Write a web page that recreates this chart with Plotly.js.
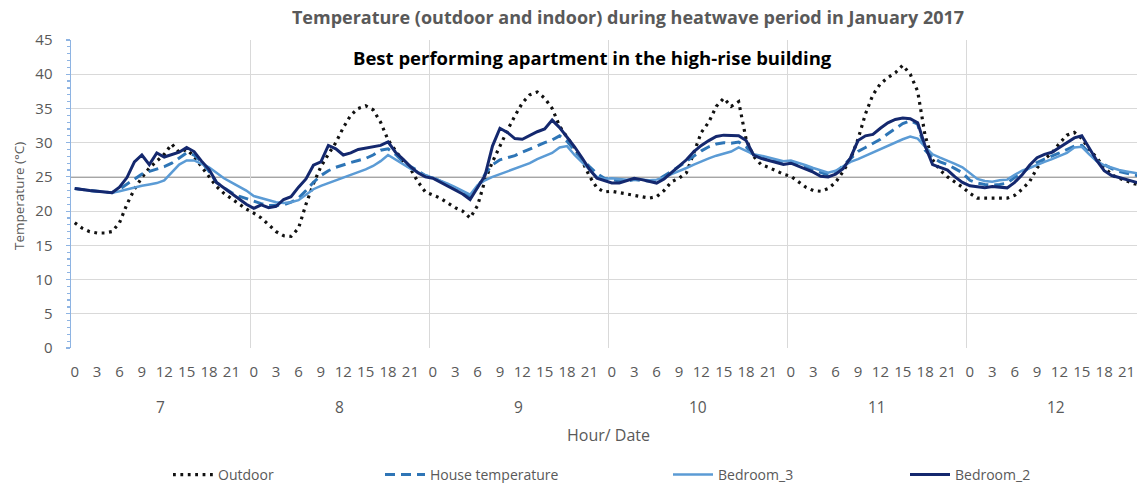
<!DOCTYPE html>
<html>
<head>
<meta charset="utf-8">
<script src="https://cdn.plot.ly/plotly-3.0.1.min.js"></script>
<style>html,body{margin:0;padding:0;background:#fff;}#chart{width:1137px;height:483px;}</style>
</head>
<body>
<div id="chart"></div>
<script>
// ---- data ----
const days = [7, 8, 9, 10, 11, 12];
const hours = [0,1,2,3,4,5,6,7,8,9,10,11,12,13,14,15,16,17,18,19,20,21,22,23];
const hourTickStep = 3;
const threshold = 25;

const outdoor = [
  18.3,17.5,17.0,16.8,16.8,17.0,18.3,21.0,23.2,24.9,26.3,27.3,28.3,29.8,28.6,29.0,28.0,26.5,25.0,23.6,22.6,21.8,21.0,20.3,
  19.7,19.0,18.0,17.0,16.4,16.3,17.5,21.0,24.0,26.5,28.3,30.0,32.2,34.0,35.0,35.4,34.8,33.0,30.4,28.8,27.3,26.2,24.3,22.8,
  22.4,21.9,21.2,20.5,20.0,19.0,20.8,24.5,27.2,29.6,31.8,33.9,35.8,37.0,37.4,36.5,35.0,32.4,30.9,29.2,27.4,25.1,23.4,22.8,
  22.9,22.7,22.5,22.3,22.1,21.9,22.1,23.0,24.3,24.8,25.6,28.5,31.5,33.0,35.3,36.5,35.3,36.0,30.5,28.0,26.8,26.4,25.9,25.4,
  25.1,24.3,23.5,23.0,22.9,23.3,24.2,25.8,27.6,30.5,34.2,37.0,38.6,39.5,40.2,41.3,40.0,37.5,31.0,27.5,26.0,25.0,24.3,23.5,
  22.6,21.9,21.9,21.9,21.8,21.9,22.3,23.2,24.3,26.3,27.6,28.5,29.9,31.1,31.5,30.6,29.0,27.8,26.4,25.3,24.8,24.4,24.0,23.8
];
const houseTemperature = [
  23.3,23.1,23.0,22.9,22.8,22.7,23.2,23.9,24.7,25.4,25.8,26.1,26.5,27.0,27.7,28.5,28.2,27.2,25.8,24.2,23.4,22.7,22.2,21.8,
  21.4,21.1,20.8,20.8,20.9,21.3,21.9,23.0,24.2,25.2,25.9,26.4,26.8,27.1,27.4,27.7,28.2,28.9,29.1,28.3,27.2,26.5,25.9,25.2,
  24.9,24.4,23.9,23.4,22.8,22.1,23.5,25.4,26.8,27.5,27.8,28.1,28.6,29.1,29.6,30.0,30.4,31.0,30.2,28.9,27.6,26.5,25.5,24.8,
  24.6,24.4,24.4,24.6,24.5,24.4,24.5,25.1,25.8,26.5,27.3,28.1,28.8,29.4,29.8,30.0,29.9,30.1,29.4,28.1,27.8,27.6,27.3,27.0,
  27.1,26.8,26.4,26.0,25.6,25.3,25.6,26.6,27.7,28.7,29.3,29.9,30.5,31.3,32.1,32.8,33.2,32.7,28.9,27.8,27.2,26.8,26.2,25.6,
  24.5,24.1,23.9,23.8,23.9,24.1,24.9,25.6,26.4,27.1,27.6,28.0,28.5,29.0,29.5,29.6,28.5,27.4,26.8,26.2,25.8,25.5,25.3,25.1
];
const bedroom3 = [
  23.3,23.1,23.0,22.9,22.8,22.7,22.9,23.2,23.5,23.7,23.9,24.1,24.5,25.6,26.8,27.4,27.4,26.9,26.4,25.6,24.8,24.2,23.6,23.0,
  22.2,21.9,21.5,21.3,21.2,21.3,21.6,22.4,23.2,23.7,24.1,24.5,24.8,25.2,25.6,26.1,26.6,27.3,28.2,27.5,26.8,26.2,25.7,25.2,
  24.9,24.5,24.0,23.5,23.0,22.4,23.8,24.5,25.0,25.4,25.8,26.2,26.6,27.0,27.6,28.1,28.5,29.3,29.5,28.2,27.1,26.0,25.0,24.7,
  24.8,24.7,24.6,24.7,24.6,24.5,24.6,24.9,25.4,25.8,26.3,26.8,27.3,27.7,28.1,28.4,28.7,29.3,28.8,28.3,28.1,27.8,27.5,27.3,
  27.4,27.1,26.7,26.3,25.9,25.6,25.9,26.6,27.2,27.6,28.1,28.5,29.0,29.5,30.0,30.5,30.9,30.6,29.4,28.3,27.8,27.4,26.9,26.4,
  25.6,24.7,24.4,24.3,24.5,24.6,25.3,25.9,26.3,26.8,27.2,27.6,28.0,28.5,29.3,29.4,28.3,27.3,26.7,26.3,26.0,25.8,25.6,25.4
];
const bedroom2 = [
  23.3,23.1,23.0,22.9,22.8,22.7,23.5,24.9,27.2,28.2,26.8,28.5,27.9,28.2,28.6,29.3,28.7,27.3,26.1,24.2,23.4,22.7,21.9,21.0,
  20.4,20.9,20.5,20.7,21.7,22.1,23.5,24.7,26.7,27.2,29.6,29.1,28.2,28.5,29.0,29.2,29.4,29.6,30.1,28.6,27.6,26.5,25.6,25.0,
  24.8,24.2,23.6,23.1,22.5,21.7,23.5,25.2,29.5,32.1,31.5,30.6,30.5,31.1,31.6,32.0,33.3,32.2,30.8,29.4,27.8,26.1,24.8,24.5,
  24.1,24.1,24.4,24.8,24.6,24.3,24.1,24.7,25.6,26.6,27.5,28.7,29.6,30.3,30.9,31.1,31.1,31.0,30.3,28.2,27.7,27.4,27.2,26.8,
  27.0,26.6,26.2,25.7,25.1,25.0,25.4,26.2,27.8,30.3,31.0,31.2,32.1,32.9,33.4,33.6,33.5,32.9,29.5,26.8,26.4,26.0,25.0,24.2,
  23.7,23.5,23.4,23.6,23.5,23.4,24.2,25.3,26.7,27.8,28.3,28.6,29.3,30.0,30.7,31.0,29.2,27.4,25.9,25.2,24.9,24.6,24.3,24.0
];

const seriesNames = ['Outdoor', 'House temperature', 'Bedroom_3', 'Bedroom_2'];
const titleText = 'Temperature (outdoor and indoor) during heatwave period in January 2017';
const subtitleText = 'Best performing apartment in the high-rise building';
const yTitleText = 'Temperature (°C)';
const xTitleText = 'Hour/ Date';

// ---- derived positions (category index) ----
const nH = hours.length;
const xIdx = [];
days.forEach((d, i) => hours.forEach(h => xIdx.push(i * nH + h)));
const tickVals = xIdx.filter((v, i) => hours[i % nH] % hourTickStep === 0);
const tickText = tickVals.map(v => String(hours[v % nH]));
const dayBounds = days.map((d, i) => i * nH - 0.5);
const dayCenters = days.map((d, i) => i * nH + (nH - 1) / 2);

const FONT = 'Open Sans, Liberation Sans, sans-serif';
const GRAY = '#595959';
const W = 1137, H = 483;
const mT = 40, mB = 0, mL = 71;
const ph = H - mT - mB;
const py = px => (H - mB - px) / ph; // pixel row -> paper y
const pxx = px => (px - mL) / (W - mL); // pixel column -> paper x

const styles = [
  {color: '#111111', width: 3.2, dash: '2.8px,4.6px'},
  {color: '#2e75b6', width: 3, dash: '10px,6px'},
  {color: '#5b9bd5', width: 2.5, dash: 'solid'},
  {color: '#14286e', width: 3, dash: 'solid'}
];
const values = [outdoor, houseTemperature, bedroom3, bedroom2];
const legendX = [168, 380, 668, 905];
const legendIds = ['legend', 'legend2', 'legend3', 'legend4'];

const traces = values.map((v, i) => ({
  type: 'scatter', mode: 'lines', x: xIdx, y: v, name: seriesNames[i],
  line: styles[i], legend: legendIds[i], xaxis: 'x', yaxis: 'y', hoverinfo: 'skip'
}));

const layout = {
  width: W, height: H,
  margin: {l: mL, r: 0, t: mT, b: mB, autoexpand: false},
  paper_bgcolor: '#fff', plot_bgcolor: 'rgba(0,0,0,0)',
  font: {family: FONT, color: GRAY, size: 14},
  title: {text: titleText, x: 628 / W, xanchor: 'center', xref: 'container',
          y: 1 - 18 / H, yanchor: 'middle', yref: 'container',
          font: {family: FONT, size: 18, color: GRAY, weight: 'bold'}},
  xaxis: {
    domain: [0, 1], range: [-0.5, 142.4], anchor: 'y',
    tickmode: 'array', tickvals: tickVals, ticktext: tickText,
    showgrid: false, zeroline: false, showline: false, ticks: '',
    ticklabelstandoff: 13, tickfont: {size: 15, color: GRAY},
    minor: {tickmode: 'array', tickvals: dayBounds, showgrid: true, gridcolor: '#d9d9d9', gridwidth: 1, ticks: ''}
  },
  yaxis: {
    domain: [py(348), 1], range: [0, 45], dtick: 5, anchor: 'x',
    showgrid: true, gridcolor: '#d9d9d9', gridwidth: 1, zeroline: false,
    showline: true, linecolor: '#8eb4e3', linewidth: 1.5,
    ticks: 'outside', ticklen: 4, tickcolor: '#8eb4e3', tickwidth: 1.2,
    minor: {dtick: 1, ticks: 'outside', ticklen: 3, tickcolor: '#8eb4e3', showgrid: false},
    ticklabelstandoff: 10, tickfont: {size: 15, color: GRAY}
  },
  xaxis2: {
    domain: [0, 1], matches: 'x', anchor: 'y2',
    tickmode: 'array', tickvals: dayBounds, showticklabels: false,
    showgrid: true, gridcolor: '#d9d9d9', gridwidth: 1, zeroline: false, showline: false, ticks: ''
  },
  yaxis2: {domain: [py(420), py(348)], range: [0, 1], visible: false, fixedrange: true},
  shapes: [
    {type: 'line', xref: 'paper', x0: 0, x1: 1, yref: 'y', y0: threshold, y1: threshold,
     line: {color: '#a6a6a6', width: 2}, layer: 'below'}
  ],
  annotations: [
    {text: subtitleText, xref: 'paper', yref: 'paper', x: pxx(592), y: py(58),
     xanchor: 'center', yanchor: 'middle', showarrow: false,
     font: {family: FONT, size: 18.5, color: '#000', weight: 'bold'}},
    {text: xTitleText, xref: 'paper', yref: 'paper', x: pxx(608), y: py(435),
     xanchor: 'center', yanchor: 'middle', showarrow: false, font: {size: 16, color: GRAY}},
    {text: yTitleText, xref: 'paper', yref: 'paper', x: pxx(19), y: py(196), textangle: -90,
     xanchor: 'center', yanchor: 'middle', showarrow: false, font: {size: 13.5, color: GRAY}}
  ].concat(days.map((d, i) => ({
    text: String(d), xref: 'x', yref: 'paper', x: dayCenters[i], y: py(407),
    xanchor: 'center', yanchor: 'middle', showarrow: false, font: {size: 15.5, color: GRAY}
  }))),
  showlegend: true
};
legendIds.forEach((id, i) => {
  layout[id] = {
    x: legendX[i] / W, xref: 'container', xanchor: 'left',
    y: py(475), yref: 'paper', yanchor: 'middle',
    orientation: 'h', bgcolor: 'rgba(0,0,0,0)', borderwidth: 0,
    font: {family: FONT, size: 14, color: GRAY}, itemwidth: 40
  };
});

Plotly.newPlot('chart', traces, layout, {staticPlot: true});
</script>
</body>
</html>
